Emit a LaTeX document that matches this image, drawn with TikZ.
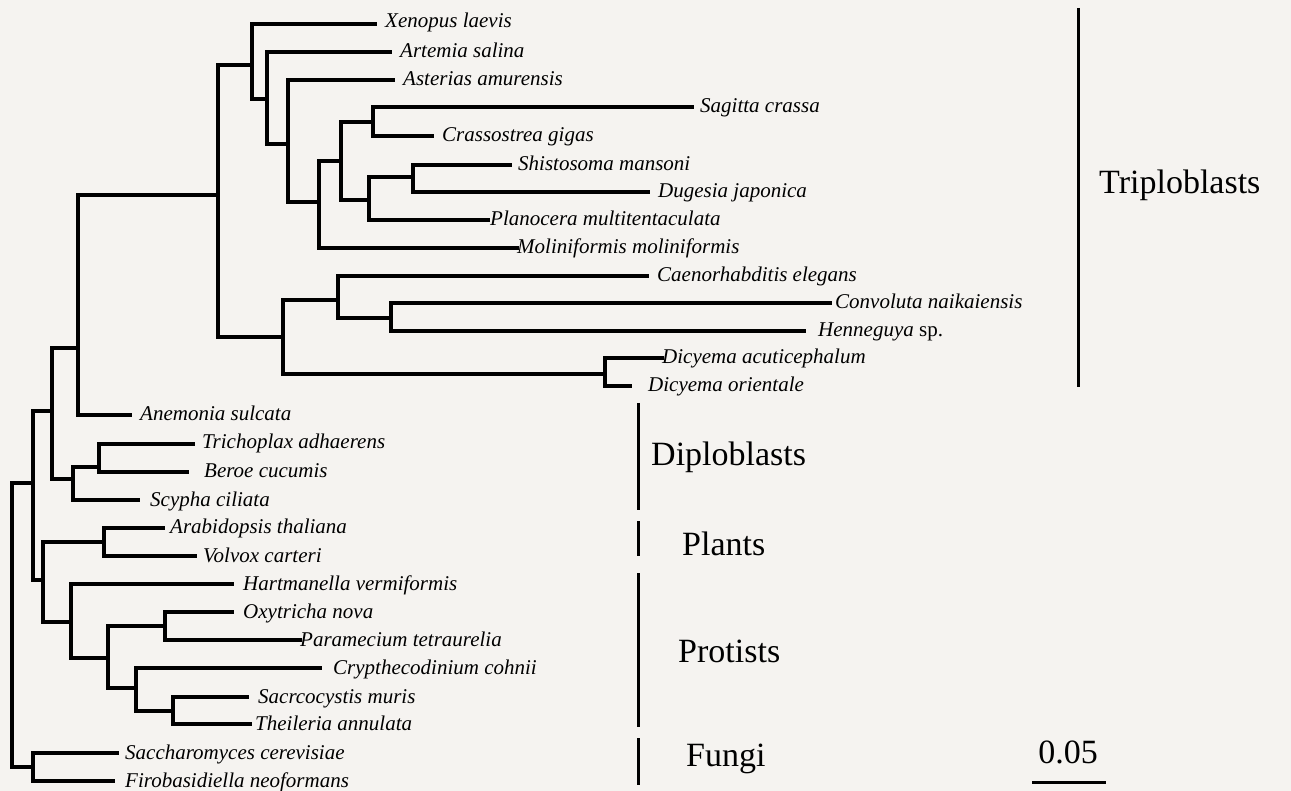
\documentclass[tikz,border=0pt]{standalone}
\usepackage{fontspec}
\setmainfont{Liberation Serif}
\begin{document}
\begin{tikzpicture}[x=1pt,y=-1pt,
  br/.style={line width=3.2pt,line cap=rect},
  bar/.style={line width=3pt},
  lab/.style={anchor=base west,inner sep=0pt,font=\fontsize{21}{24}\selectfont\itshape},
  grp/.style={anchor=west,inner sep=0pt,font=\fontsize{34}{36}\selectfont}]
\fill[color={rgb,255:red,245;green,243;blue,240}] (0,0) rectangle (1291,791);
\useasboundingbox (0,0) rectangle (1291,791);
% internal nodes
\coordinate (R) at (12,483);
\coordinate (A) at (33,483);
\coordinate (B) at (52,411);
\coordinate (C) at (78,348);
\coordinate (T) at (218,195);
\coordinate (T1) at (252,65);
\coordinate (T3) at (267,99);
\coordinate (T4) at (288,144);
\coordinate (T5) at (319,202);
\coordinate (T6) at (341,161);
\coordinate (T7) at (373,122);
\coordinate (T8) at (369,200);
\coordinate (T9) at (413,177);
\coordinate (T2) at (283,337);
\coordinate (T10) at (338,300);
\coordinate (T12) at (391,318);
\coordinate (T11) at (605,374);
\coordinate (D) at (73,479);
\coordinate (D1) at (99,467);
\coordinate (P) at (43,580);
\coordinate (PL) at (104,542);
\coordinate (Q) at (71,622);
\coordinate (Q1) at (108,658);
\coordinate (Q2) at (165,626);
\coordinate (Q3) at (136,688);
\coordinate (Q4) at (173,711);
\coordinate (F) at (33,767);
% leaf ends
\coordinate (xen) at (375,24);
\coordinate (art) at (390,52);
\coordinate (ast) at (393,80);
\coordinate (sag) at (692,107);
\coordinate (cra) at (432,136);
\coordinate (shi) at (510,165);
\coordinate (dug) at (648,192);
\coordinate (pla) at (488,220);
\coordinate (mol) at (517,248);
\coordinate (cae) at (647,276);
\coordinate (con) at (830,303);
\coordinate (hen) at (804,331);
\coordinate (dac) at (662,358);
\coordinate (dor) at (630,386);
\coordinate (ane) at (130,415);
\coordinate (tri) at (193,444);
\coordinate (ber) at (187,472);
\coordinate (scy) at (138,500);
\coordinate (ara) at (163,528);
\coordinate (vol) at (195,556);
\coordinate (har) at (232,584);
\coordinate (oxy) at (232,612);
\coordinate (par) at (300,640);
\coordinate (cry) at (320,668);
\coordinate (sar) at (247,697);
\coordinate (the) at (250,724);
\coordinate (sac) at (117,753);
\coordinate (fir) at (113,781);
% branches
\draw[br] (R) |- (A); \draw[br] (R) |- (F);
\draw[br] (A) |- (B); \draw[br] (A) |- (P);
\draw[br] (B) |- (C); \draw[br] (B) |- (D);
\draw[br] (C) |- (T); \draw[br] (C) |- (ane);
\draw[br] (T) |- (T1); \draw[br] (T) |- (T2);
\draw[br] (T1) |- (xen); \draw[br] (T1) |- (T3);
\draw[br] (T3) |- (art); \draw[br] (T3) |- (T4);
\draw[br] (T4) |- (ast); \draw[br] (T4) |- (T5);
\draw[br] (T5) |- (T6); \draw[br] (T5) |- (mol);
\draw[br] (T6) |- (T7); \draw[br] (T6) |- (T8);
\draw[br] (T7) |- (sag); \draw[br] (T7) |- (cra);
\draw[br] (T8) |- (T9); \draw[br] (T8) |- (pla);
\draw[br] (T9) |- (shi); \draw[br] (T9) |- (dug);
\draw[br] (T2) |- (T10); \draw[br] (T2) |- (T11);
\draw[br] (T10) |- (cae); \draw[br] (T10) |- (T12);
\draw[br] (T12) |- (con); \draw[br] (T12) |- (hen);
\draw[br] (T11) |- (dac); \draw[br] (T11) |- (dor);
\draw[br] (D) |- (D1); \draw[br] (D) |- (scy);
\draw[br] (D1) |- (tri); \draw[br] (D1) |- (ber);
\draw[br] (P) |- (PL); \draw[br] (P) |- (Q);
\draw[br] (PL) |- (ara); \draw[br] (PL) |- (vol);
\draw[br] (Q) |- (har); \draw[br] (Q) |- (Q1);
\draw[br] (Q1) |- (Q2); \draw[br] (Q1) |- (Q3);
\draw[br] (Q2) |- (oxy); \draw[br] (Q2) |- (par);
\draw[br] (Q3) |- (cry); \draw[br] (Q3) |- (Q4);
\draw[br] (Q4) |- (sar); \draw[br] (Q4) |- (the);
\draw[br] (F) |- (sac); \draw[br] (F) |- (fir);
% labels
\node[lab] (lxen) at (385,28) {Xenopus laevis};
\node[lab] (lart) at (400,58) {Artemia salina};
\node[lab] (last) at (403,86) {Asterias amurensis};
\node[lab] (lsag) at (700,113) {Sagitta crassa};
\node[lab] (lcra) at (442,142) {Crassostrea gigas};
\node[lab] (lshi) at (518,171) {Shistosoma mansoni};
\node[lab] (ldug) at (658,198) {Dugesia japonica};
\node[lab] (lpla) at (490,226) {Planocera multitentaculata};
\node[lab] (lmol) at (517,254) {Moliniformis moliniformis};
\node[lab] (lcae) at (657,282) {Caenorhabditis elegans};
\node[lab] (lcon) at (835,309) {Convoluta naikaiensis};
\node[lab] (lhen) at (818,337) {Henneguya \upshape sp.};
\node[lab] (ldac) at (662,364) {Dicyema acuticephalum};
\node[lab] (ldor) at (648,392) {Dicyema orientale};
\node[lab] (lane) at (140,421) {Anemonia sulcata};
\node[lab] (ltri) at (202,449) {Trichoplax adhaerens};
\node[lab] (lber) at (204,478) {Beroe cucumis};
\node[lab] (lscy) at (150,506) {Scypha ciliata};
\node[lab] (lara) at (170,533) {Arabidopsis thaliana};
\node[lab] (lvol) at (203,562) {Volvox carteri};
\node[lab] (lhar) at (243,590) {Hartmanella vermiformis};
\node[lab] (loxy) at (243,618) {Oxytricha nova};
\node[lab] (lpar) at (300,646) {Paramecium tetraurelia};
\node[lab] (lcry) at (333,674) {Crypthecodinium cohnii};
\node[lab] (lsar) at (258,703) {Sacrcocystis muris};
\node[lab] (lthe) at (255,730) {Theileria annulata};
\node[lab] (lsac) at (125,759) {Saccharomyces cerevisiae};
\node[lab] (lfir) at (125,787) {Firobasidiella neoformans};
% group bars
\coordinate (g1a) at (1078,8); \coordinate (g1b) at (1078,387);
\draw[bar] (g1a) -- (g1b);
\node[grp] (gtri) at (1099,185) {Triploblasts};
\coordinate (g2a) at (638,403); \coordinate (g2b) at (638,510);
\draw[bar] (g2a) -- (g2b);
\node[grp] (gdip) at (651,457) {Diploblasts};
\coordinate (g3a) at (638,521); \coordinate (g3b) at (638,556);
\draw[bar] (g3a) -- (g3b);
\node[grp] (gpla) at (682,544) {Plants};
\coordinate (g4a) at (638,573); \coordinate (g4b) at (638,727);
\draw[bar] (g4a) -- (g4b);
\node[grp] (gpro) at (678,651) {Protists};
\coordinate (g5a) at (638,738); \coordinate (g5b) at (638,785);
\draw[bar] (g5a) -- (g5b);
\node[grp] (gfun) at (686,759) {Fungi};
% scale bar
\coordinate (s1) at (1032,782); \coordinate (s2) at (1106,782);
\draw[bar] (s1) -- (s2);
\node[grp,anchor=base] (sc) at (1068,763) {0.05};
\end{tikzpicture}
\end{document}
